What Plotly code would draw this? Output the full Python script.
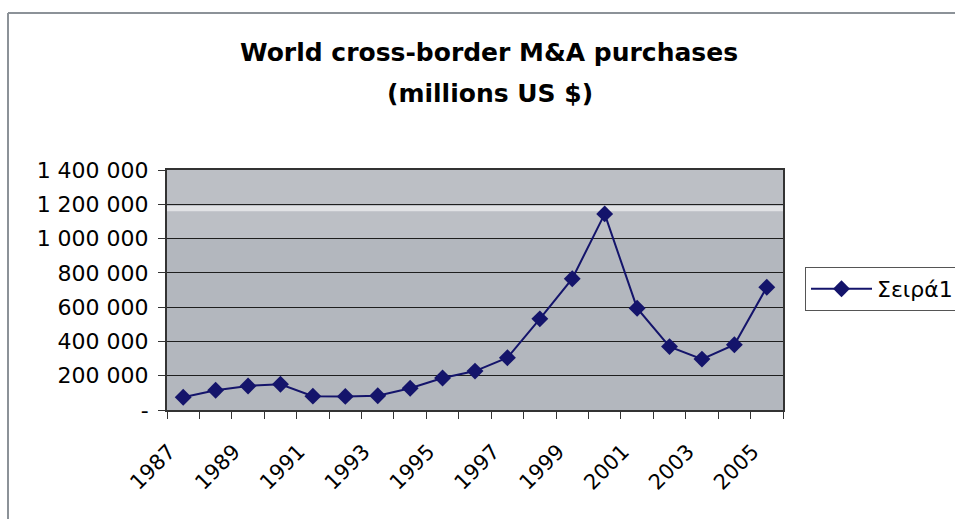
import plotly.graph_objects as go

years = list(range(1987, 2006))
values = [74509, 115623, 140389, 150576, 80713, 79280, 83064, 127110, 186593,
          227023, 304848, 531648, 766044, 1143816, 593960, 369789, 296988,
          380598, 716302]
series_name = "Σειρά1"
title_line1 = "World cross-border M&A purchases"
title_line2 = "(millions US $)"
y_tickvals = [0, 200000, 400000, 600000, 800000, 1000000, 1200000, 1400000]
y_ticktext = ["-", "200 000", "400 000", "600 000", "800 000", "1 000 000",
              "1 200 000", "1 400 000"]
x_label_years = years[::2]

W, H = 955, 519
L, R, T, B = 167, 172, 170, 109
pw, ph = W - L - R, H - T - B

def px_x(x):
    return (x - L) / pw

def px_y(y):
    return (H - B - y) / ph

FONT = "DejaVu Sans"
NAVY = "#14146b"

fig = go.Figure()
fig.add_trace(go.Scatter(
    x=years, y=values, name=series_name, mode="lines+markers",
    line=dict(color=NAVY, width=2),
    marker=dict(symbol="diamond", size=13, color=NAVY),
))

fig.update_layout(
    width=W, height=H,
    margin=dict(l=L, r=R, t=T, b=B, autoexpand=False),
    paper_bgcolor="white",
    plot_bgcolor="#b3b7be",
    font=dict(family=FONT, size=22, color="black"),
    showlegend=True,
    legend=dict(
        x=px_x(805), y=px_y(289), xanchor="left", yanchor="middle",
        bgcolor="white", bordercolor="#555555", borderwidth=1,
        itemwidth=61,
        font=dict(family=FONT, size=22, color="black"),
    ),
    xaxis=dict(
        range=[years[0] - 0.5, years[-1] + 0.5],
        tickvals=x_label_years, ticktext=[str(y) for y in x_label_years],
        tickangle=-45, ticks="", showgrid=False, zeroline=False,
        showline=True, linecolor="#333333", linewidth=2, mirror=True,
        ticklabelstandoff=19, ticklabelshift=-14,
        tickfont=dict(family=FONT, size=21, color="black"),
        minor=dict(tickvals=[y - 0.5 for y in years] + [years[-1] + 0.5],
                   ticks="outside", ticklen=7, tickcolor="#333333",
                   showgrid=False),
    ),
    yaxis=dict(
        range=[0, 1400000], tickvals=y_tickvals, ticktext=y_ticktext,
        ticks="outside", ticklen=7, tickcolor="#333333",
        showgrid=True, gridcolor="#1e1e1e", gridwidth=1, zeroline=False,
        showline=True, linecolor="#333333", linewidth=2, mirror=True,
        ticklabelstandoff=5,
        tickfont=dict(family=FONT, size=22, color="black"),
    ),
    annotations=[
        dict(text="<b>%s</b>" % title_line1, xref="paper", yref="paper",
             x=px_x(489), y=px_y(52), xanchor="center", yanchor="middle",
             showarrow=False, font=dict(family=FONT, size=25, color="black")),
        dict(text="<b>%s</b>" % title_line2, xref="paper", yref="paper",
             x=px_x(490), y=px_y(93), xanchor="center", yanchor="middle",
             showarrow=False, font=dict(family=FONT, size=25, color="black")),
    ],
    shapes=[
        dict(type="rect", xref="paper", yref="y", x0=0, x1=1,
             y0=1000000, y1=1400000, fillcolor="white", opacity=0.12,
             line=dict(width=0), layer="below"),
        dict(type="rect", xref="paper", yref="y", x0=0, x1=1,
             y0=1160000, y1=1190000, fillcolor="white", opacity=0.55,
             line=dict(width=0), layer="below"),
        dict(type="line", xref="paper", yref="paper",
             x0=px_x(8), x1=px_x(W + 10), y0=px_y(13), y1=px_y(13),
             line=dict(color="#8c9298", width=2)),
        dict(type="line", xref="paper", yref="paper",
             x0=px_x(8), x1=px_x(8), y0=px_y(13), y1=px_y(H + 10),
             line=dict(color="#8c9298", width=2)),
    ],
)

fig.write_html("out.html")
